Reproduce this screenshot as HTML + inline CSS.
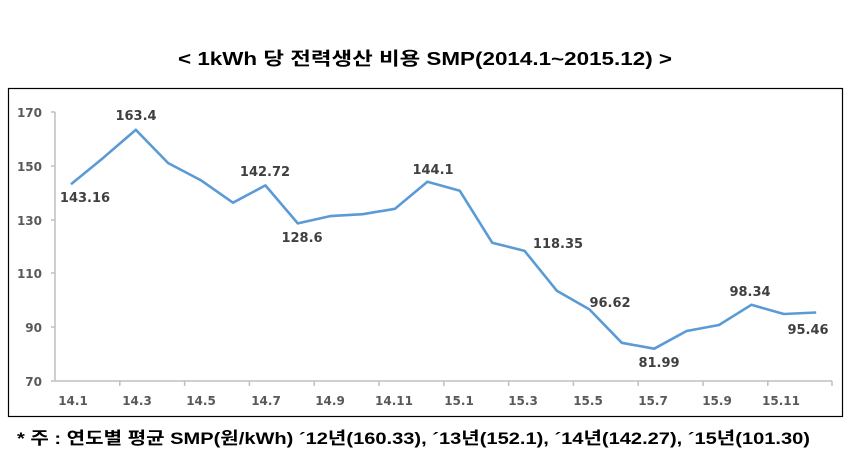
<!DOCTYPE html>
<html><head><meta charset="utf-8"><style>
body{margin:0;background:#fff;}
svg{display:block;}
</style></head><body>
<svg width="850" height="454" xmlns="http://www.w3.org/2000/svg">
<text x="425" y="65" text-anchor="middle" font-family="'Liberation Sans','Noto Sans CJK KR',sans-serif" font-size="18" font-weight="bold" fill="#000" textLength="494" lengthAdjust="spacingAndGlyphs">&lt; 1kWh 당 전력생산 비용 SMP(2014.1~2015.12) &gt;</text>
<rect x="8.5" y="88.5" width="834" height="328" fill="#fff" stroke="#000" stroke-width="1.2"/>
<g stroke="#bfbfbf" stroke-width="1.5" fill="none">
<line x1="55" y1="112" x2="55" y2="381"/>
<line x1="51" y1="381" x2="832" y2="381"/>
<line x1="51" y1="112" x2="55" y2="112"/><line x1="51" y1="166" x2="55" y2="166"/><line x1="51" y1="220" x2="55" y2="220"/><line x1="51" y1="273" x2="55" y2="273"/><line x1="51" y1="327" x2="55" y2="327"/>
<line x1="119.8" y1="381" x2="119.8" y2="386"/><line x1="184.6" y1="381" x2="184.6" y2="386"/><line x1="249.4" y1="381" x2="249.4" y2="386"/><line x1="314.2" y1="381" x2="314.2" y2="386"/><line x1="379" y1="381" x2="379" y2="386"/><line x1="443.8" y1="381" x2="443.8" y2="386"/><line x1="508.6" y1="381" x2="508.6" y2="386"/><line x1="573.4" y1="381" x2="573.4" y2="386"/><line x1="638.2" y1="381" x2="638.2" y2="386"/><line x1="703" y1="381" x2="703" y2="386"/><line x1="767.8" y1="381" x2="767.8" y2="386"/><line x1="832" y1="381" x2="832" y2="386"/>
</g>
<g font-family="'DejaVu Sans',sans-serif" font-size="12" font-weight="bold" fill="#595959" text-anchor="end">
<text x="42" y="117">170</text><text x="42" y="171">150</text><text x="42" y="225">130</text><text x="42" y="278">110</text><text x="42" y="332">90</text><text x="42" y="386">70</text>
</g>
<g font-family="'DejaVu Sans',sans-serif" font-size="12" font-weight="bold" fill="#595959" text-anchor="middle">
<text x="73" y="405">14.1</text><text x="137" y="405">14.3</text><text x="201" y="405">14.5</text><text x="266" y="405">14.7</text><text x="330" y="405">14.9</text><text x="394" y="405">14.11</text>
<text x="459" y="405">15.1</text><text x="523" y="405">15.3</text><text x="588" y="405">15.5</text><text x="653" y="405">15.7</text><text x="717" y="405">15.9</text><text x="781" y="405">15.11</text>
</g>
<polyline fill="none" stroke="#5b9bd5" stroke-width="2.6" stroke-linejoin="round" points="71,184.2 103.4,157.7 135.8,129.8 168.2,163.1 200.6,180.1 233,202.7 265.4,185.4 297.8,223.4 330.2,216.1 362.6,214.2 395,208.8 427.4,181.7 459.8,190.8 492.2,242.7 524.6,250.9 557,290.9 589.4,309.4 621.8,342.8 654.2,348.7 686.6,331 719,325 751.4,304.8 783.8,314 816.2,312.5"/>
<g font-family="'DejaVu Sans',sans-serif" font-size="13" font-weight="bold" fill="#404040" text-anchor="middle">
<text x="85" y="202">143.16</text><text x="136" y="120">163.4</text><text x="265" y="176">142.72</text><text x="302" y="242">128.6</text><text x="433" y="174">144.1</text>
<text x="558" y="248">118.35</text><text x="610" y="307">96.62</text><text x="659" y="367">81.99</text><text x="750" y="296">98.34</text><text x="808" y="334">95.46</text>
</g>
<text x="17" y="444" font-family="'Liberation Sans','Noto Sans CJK KR',sans-serif" font-size="17" font-weight="bold" fill="#000" textLength="793" lengthAdjust="spacingAndGlyphs">* 주 : 연도별 평균 SMP(원/kWh) ´12년(160.33), ´13년(152.1), ´14년(142.27), ´15년(101.30)</text>
</svg>
</body></html>
